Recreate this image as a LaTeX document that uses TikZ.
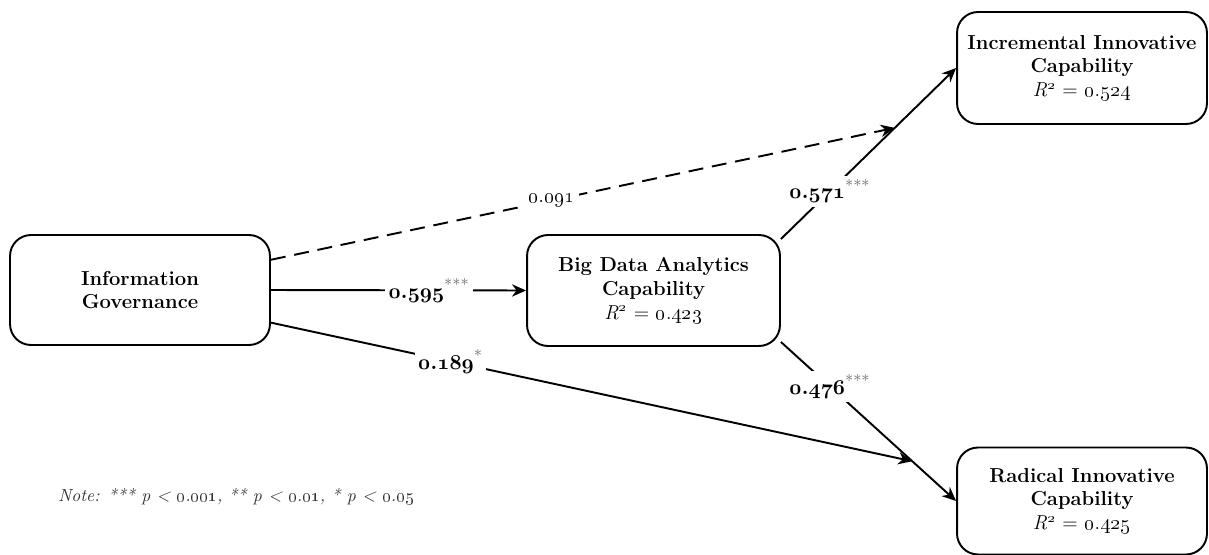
\documentclass[tikz,border=0pt]{standalone}
\usepackage{tikz}
\usetikzlibrary{arrows.meta, positioning, calc}
\definecolor{starGray}{HTML}{707070}
\definecolor{noteGray}{HTML}{333333}
% old style numbers, period kept outside
\newcommand{\onum}[2]{\oldstylenums{#1}.\oldstylenums{#2}}
\newcommand{\bnum}[2]{{\usefont{OML}{cmm}{b}{it}#1}\textbf{.}{\usefont{OML}{cmm}{b}{it}#2}}
\newcommand{\rsq}[2]{\textit{R}\textsuperscript{\oldstylenums{2}} = \onum{#1}{#2}}
\newcommand{\coefval}[3]{\bnum{#1}{#2}\textsuperscript{\textcolor{starGray}{#3}}}

\begin{document}
\begin{tikzpicture}[x=0.02cm, y=-0.02cm,
		box/.style={draw=black, line width=1.1pt, rounded corners=0.42cm, fill=white,
			align=center, inner sep=2pt, font=\fontsize{11.5}{13.6}\selectfont},
		coef/.style={fill=white, inner sep=2pt, font=\fontsize{13}{15}\selectfont},
		link/.style={line width=1.1pt, -{Stealth[length=8pt,width=7pt]}},
		dashlink/.style={link, dash pattern=on 8.5pt off 5pt}]
		\useasboundingbox (0,0) rectangle (1209,554);
		%-------------------------------------------------------------------------------
		% constructs
		%-------------------------------------------------------------------------------
		\node[box, minimum width=5.2cm, minimum height=2.2cm] (ig) 
			at (140,290) {\textbf{Information}\\\textbf{Governance}};
		\node[box, minimum width=5.06cm, minimum height=2.22cm] (bda) 
			at (653.5,290.5) {\textbf{Big Data Analytics}\\\textbf{Capability}\\\rsq{0}{423}};
		\node[box, minimum width=5.0cm, minimum height=2.24cm] (iic) 
			at (1082,68) {\textbf{Incremental Innovative}\\\textbf{Capability}\\\rsq{0}{524}};
		\node[box, minimum width=5.0cm, minimum height=2.14cm] (ric) 
			at (1082,501) {\textbf{Radical Innovative}\\\textbf{Capability}\\\rsq{0}{425}};
		
		% meeting points on the outcome paths
		\path (bda.22) -- (iic.west) coordinate[pos=0.65] (hitI);
		\path (bda.-22) -- (ric.west) coordinate[pos=0.75] (hitR);
		
		% paths from BDA
		\draw[link] (bda.22) -- node[coef, pos=0.28] {\coefval{0}{571}{***}} (iic.west);
		\draw[link] (bda.-22) -- node[coef, pos=0.28] {\coefval{0}{476}{***}} (ric.west);
		% paths from IG
		\draw[dashlink] (ig.13) -- node[coef, pos=0.45, font=\fontsize{12}{14}\selectfont] {\onum{0}{091}} (hitI);
		\draw[link] (ig.east) -- node[coef, pos=0.62] {\coefval{0}{595}{***}} (bda.west);
		\draw[link] (ig.-14) -- node[coef, pos=0.28] {\coefval{0}{189}{*}} (hitR);
		
		% note
		\node[anchor=west, inner sep=0pt, text=noteGray, font=\fontsize{10}{12}\selectfont\itshape] (note) 
			at (58,497) {Note: *** p < \onum{0}{001}, ** p < \onum{0}{01}, * p < \onum{0}{05}};
\end{tikzpicture}
\end{document}
